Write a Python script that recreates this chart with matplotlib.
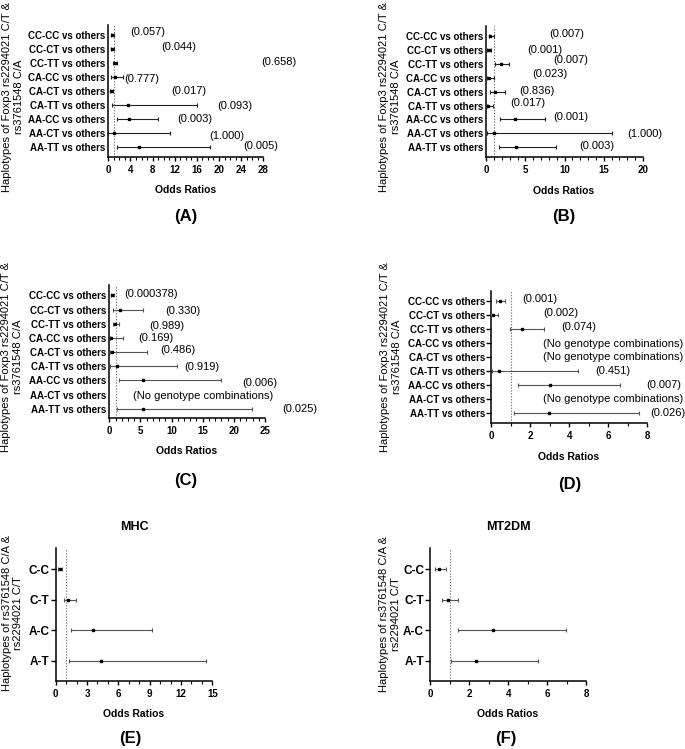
import numpy as np
import matplotlib
matplotlib.use("Agg")
import matplotlib.pyplot as plt
from matplotlib.ticker import MultipleLocator

plt.rcParams['font.family'] = ['Liberation Sans', 'DejaVu Sans']

W, H = 685, 749

# ---- data ----
rows9 = ['CC-CC vs others', 'CC-CT vs others', 'CC-TT vs others',
         'CA-CC vs others', 'CA-CT vs others', 'CA-TT vs others',
         'AA-CC vs others', 'AA-CT vs others', 'AA-TT vs others']
rows4 = ['C-C', 'C-T', 'A-C', 'A-T']
nan = np.nan

# (A)
a_or = [0.7, 0.6, 1.2, 1.2, 0.5, 3.6, 3.8, 1.1, 5.6]
a_lo = [0.45, 0.4, 0.8, 0.5, 0.3, 0.7, 1.6, 0.0, 1.6]
a_hi = [1.0, 0.95, 1.6, 2.7, 0.9, 16.1, 9.0, 11.2, 18.3]
a_p = ['(0.057)', '(0.044)', '(0.658)', '(0.777)', '(0.017)', '(0.093)', '(0.003)', '(1.000)', '(0.005)']

# (B)
b_or = [0.5, 0.3, 1.9, 0.3, 1.15, 0.25, 3.6, 1.0, 3.8]
b_lo = [0.3, 0.15, 1.15, 0.15, 0.5, 0.1, 1.75, 0.05, 1.6]
b_hi = [0.95, 0.55, 2.85, 0.95, 2.4, 0.8, 7.55, 16.0, 8.95]
b_p = ['(0.007)', '(0.001)', '(0.007)', '(0.023)', '(0.836)', '(0.017)', '(0.001)', '(1.000)', '(0.003)']

# (C)
c_or = [0.5, 1.7, 0.95, 0.2, 0.4, 1.2, 5.45, nan, 5.35]
c_lo = [0.25, 0.65, 0.65, 0.1, 0.1, 0.1, 1.6, nan, 1.2]
c_hi = [0.8, 5.35, 1.55, 2.15, 6.0, 10.9, 17.9, nan, 22.9]
c_p = ['(0.000378)', '(0.330)', '(0.989)', '(0.169)', '(0.486)', '(0.919)', '(0.006)',
       '(No genotype combinations)', '(0.025)']

# (D)
d_or = [0.43, 0.07, 1.6, nan, nan, 0.41, 3.0, nan, 2.95]
d_lo = [0.24, 0.0, 0.98, nan, nan, 0.03, 1.35, nan, 1.15]
d_hi = [0.72, 0.34, 2.7, nan, nan, 4.45, 6.6, nan, 7.6]
d_p = ['(0.001)', '(0.002)', '(0.074)', '(No genotype combinations)', '(No genotype combinations)',
       '(0.451)', '(0.007)', '(No genotype combinations)', '(0.026)']

# (E) MHC
e_or = [0.41, 1.2, 3.55, 4.3]
e_lo = [0.26, 0.8, 1.44, 1.3]
e_hi = [0.64, 1.95, 9.2, 14.4]

# (F) MT2DM
f_or = [0.44, 0.89, 3.2, 2.36]
f_lo = [0.24, 0.58, 1.44, 1.04]
f_hi = [0.79, 1.4, 6.94, 5.54]

# label placement (x in odds-ratio units, y in row units)
a_lx = [3.9, 9.5, 27.7, 2.9, 11.3, 19.6, 12.5, 18.3, 24.4]
a_ly = [-0.24, 0.81, 1.9, 3.1, 4.0, 5.05, 6.0, 7.19, 7.88]
b_lx = [8.0, 5.2, 8.5, 5.9, 4.25, 3.0, 8.5, 18.0, 11.9]
b_ly = [-0.12, 1.0, 1.74, 2.71, 3.93, 4.81, 5.81, 7.07, 7.88]
c_lx = [2.4, 9.0, 6.4, 4.65, 8.25, 12.0, 21.4, 3.75, 27.7]
c_ly = [-0.1, 1.12, 2.19, 3.0, 3.86, 5.07, 6.19, 7.1, 8.05]
d_lx = [1.6, 2.65, 3.6, 2.65, 2.65, 5.35, 7.95, 2.65, 8.15]
d_ly = [-0.14, 0.86, 1.86, 3.05, 4.0, 5.0, 6.0, 7.0, 8.0]

YL9 = 'Haplotypes of Foxp3 rs2294021 C/T &\nrs3761548 C/A'
YL4 = 'Haplotypes of rs3761548 C/A &\nrs2294021 C/T'

fig = plt.figure(figsize=(W / 100, H / 100), dpi=100)


def box(l, r, t, b):
    return [l / W, 1 - b / H, (r - l) / W, (b - t) / H]


def ftext(x, y, s, **kw):
    fig.text(x / W, 1 - y / H, s, **kw)


def forest(rect, names, orv, lo, hi, xmax, major, ylim, yticks_on, ebc='#222222', ysize=7):
    ax = fig.add_axes(rect)
    y = np.arange(len(names))
    orv, lo, hi = np.array(orv), np.array(lo), np.array(hi)
    ok = ~np.isnan(orv)
    ax.errorbar(orv[ok], y[ok], xerr=[orv[ok] - lo[ok], hi[ok] - orv[ok]],
                fmt='s', ms=1.8, color='black', ecolor=ebc, elinewidth=0.8,
                capsize=1.6, capthick=0.8, clip_on=False, zorder=3)
    ax.axvline(1, color='#777777', ls=(0, (1.2, 1.4)), lw=0.8, zorder=1)
    ax.set_xlim(0, xmax)
    ax.set_ylim(*ylim)
    ax.set_yticks(y)
    ax.set_yticklabels(names, fontweight='bold', fontsize=ysize)
    ax.xaxis.set_major_locator(MultipleLocator(major))
    ax.xaxis.set_minor_locator(MultipleLocator(1))
    for s in ['top', 'right']:
        ax.spines[s].set_visible(False)
    for s in ['left', 'bottom']:
        ax.spines[s].set_linewidth(1.1)
    ax.tick_params(axis='x', which='major', length=3.2, width=1.0, pad=2.5, labelsize=7)
    ax.tick_params(axis='x', which='minor', length=2.0, width=0.8)
    for lab in ax.get_xticklabels():
        lab.set_fontweight('bold')
    if yticks_on:
        ax.tick_params(axis='y', length=3.5, width=1.0, pad=1)
    else:
        ax.tick_params(axis='y', length=0, pad=2.5)
    return ax


def plabels(ax, texts, lx, ly):
    for t, x, yy in zip(texts, lx, ly):
        ax.text(x, yy, t, fontsize=8, ha='left', va='center', clip_on=False)


ylim9 = (8.68, -0.73)
ylim4 = (3.67, -0.69)

axA = forest(box(108.3, 263.3, 25, 156.7), rows9, a_or, a_lo, a_hi, 28, 4, ylim9, False)
plabels(axA, a_p, a_lx, a_ly)
axB = forest(box(486.3, 643, 26, 156.7), rows9, b_or, b_lo, b_hi, 20, 5, ylim9, False)
plabels(axB, b_p, b_lx, b_ly)
axC = forest(box(109.3, 265, 285, 418.3), rows9, c_or, c_lo, c_hi, 25, 5, ylim9, False, ebc='#555555')
plabels(axC, c_p, c_lx, c_ly)
axD = forest(box(491.3, 647, 290.7, 422.7), rows9, d_or, d_lo, d_hi, 8, 2, ylim9, True, ebc='#555555')
plabels(axD, d_p, d_lx, d_ly)
axE = forest(box(55.7, 212.3, 548.3, 681), rows4, e_or, e_lo, e_hi, 15, 3, ylim4, True, ebc='#555555', ysize=8.5)
axF = forest(box(430.3, 586.3, 548.3, 681), rows4, f_or, f_lo, f_hi, 8, 2, ylim4, True, ebc='#555555', ysize=8.5)

# axis titles
for x, y, s in [(13, 97, YL9), (390, 97, YL9), (12, 357, YL9), (391, 357, YL9),
                (12.5, 613, YL4), (390, 614, YL4)]:
    ftext(x, y, s, rotation=90, ha='center', va='center', multialignment='center', fontsize=8)

for x, y in [(185.5, 190), (564, 191), (187, 451), (569, 457), (134, 714), (508, 714)]:
    ftext(x, y, 'Odds Ratios', ha='center', va='center', fontsize=7.5, fontweight='bold')

for x, y, s in [(186, 216, '(A)'), (564, 216, '(B)'), (186, 480, '(C)'),
                (570, 485, '(D)'), (130, 738, '(E)'), (506, 738, '(F)')]:
    ftext(x, y, s, ha='center', va='center', fontsize=12, fontweight='bold')

ftext(134, 527, 'MHC', ha='center', va='center', fontsize=9, fontweight='bold')
ftext(508, 527, 'MT2DM', ha='center', va='center', fontsize=9, fontweight='bold')

fig.savefig('out.png', dpi=100)
